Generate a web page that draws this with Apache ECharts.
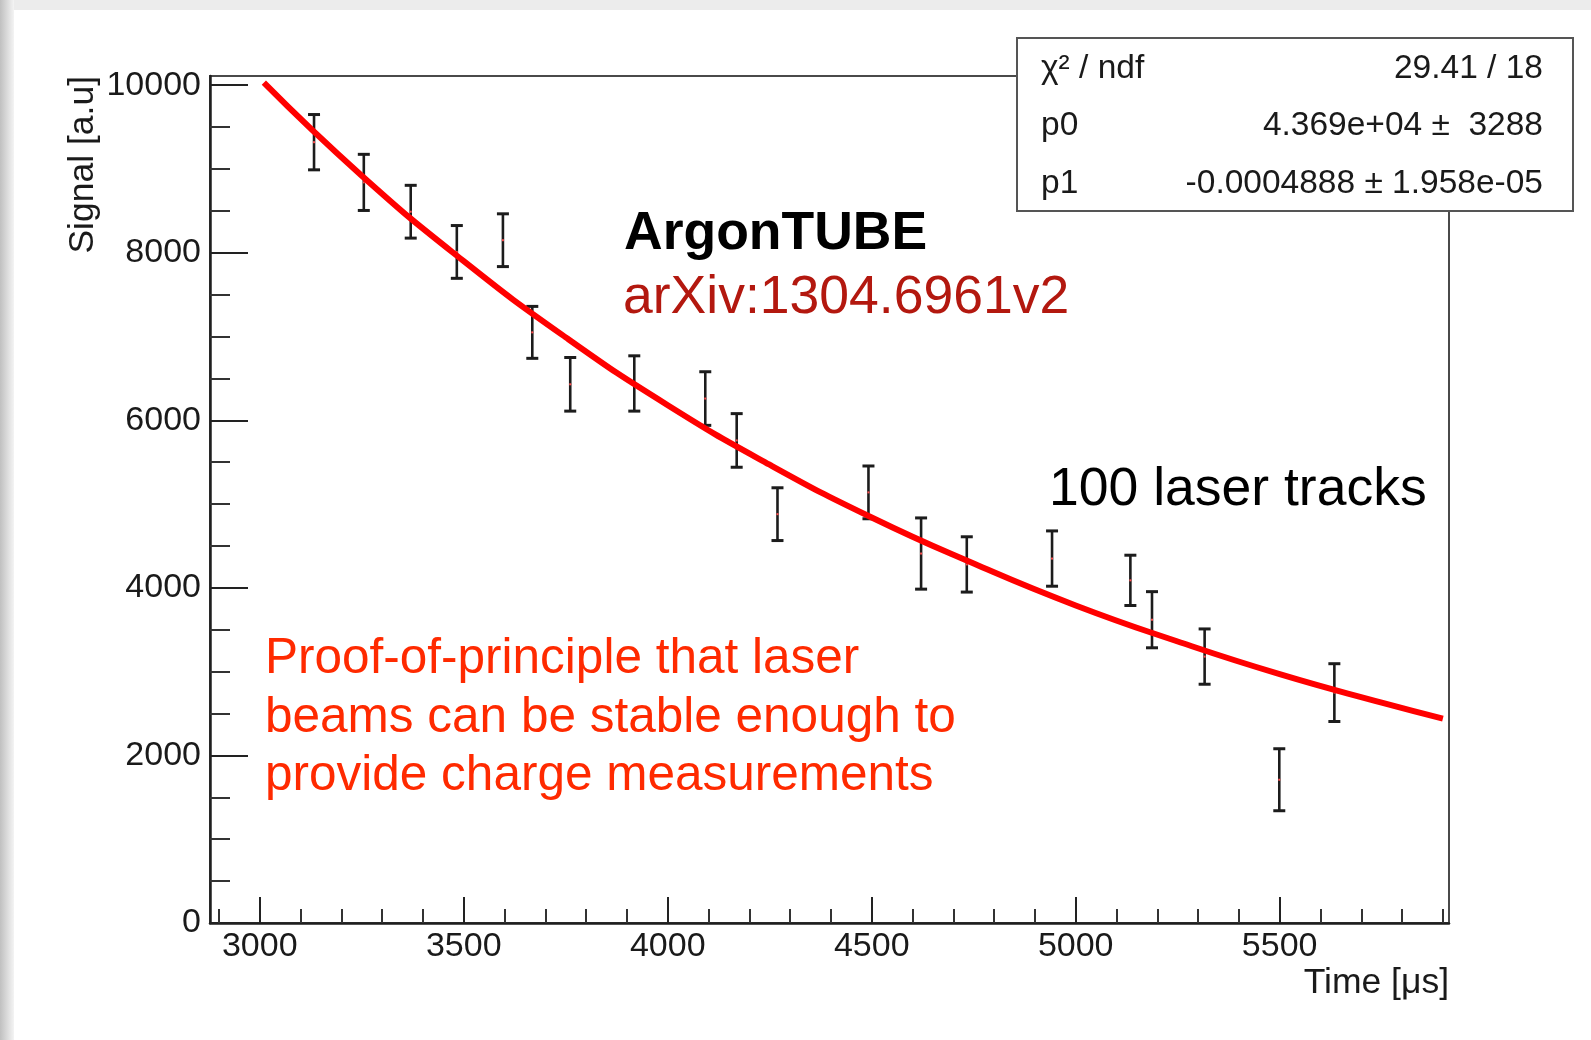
<!DOCTYPE html>
<html>
<head>
<meta charset="utf-8">
<script src="https://cdn.jsdelivr.net/npm/echarts@6/dist/echarts.min.js"></script>
<style>
html,body{margin:0;padding:0;background:#fff;}
#c{width:1591px;height:1040px;}
</style>
</head>
<body>
<div id="c"></div>
<script>
// ---- data ----
const time = [3133, 3255, 3370, 3483, 3596, 3668, 3761, 3918, 4092, 4169, 4269, 4492, 4621, 4733, 4942, 5134, 5187, 5316, 5499, 5634];
const signal = [9320, 8840, 8490, 8010, 8150, 7050, 6430, 6440, 6260, 5760, 4880, 5140, 4410, 4280, 4350, 4090, 3620, 3180, 1710, 2750];
const signalErr = [330, 335, 315, 315, 315, 310, 320, 330, 320, 320, 315, 315, 425, 330, 330, 300, 335, 330, 370, 345];

// fitted curve
const fitTime = [3010, 3250, 3500, 3750, 4000, 4250, 4500, 4750, 5000, 5250, 5500, 5750, 5900];
const fitSignal = [10030, 8920, 7900, 6990, 6180, 5470, 4840, 4290, 3790, 3360, 2970, 2630, 2440];

const xMajorTicks = [3000, 3500, 4000, 4500, 5000, 5500];
const xMinorTicks = [2900, 3100, 3200, 3300, 3400, 3600, 3700, 3800, 3900, 4100, 4200, 4300, 4400, 4600, 4700, 4800, 4900, 5100, 5200, 5300, 5400, 5600, 5700, 5800, 5900];
const yMajorTicks = [0, 2000, 4000, 6000, 8000, 10000];
const yMinorTicks = [500, 1000, 1500, 2500, 3000, 3500, 4500, 5000, 5500, 6500, 7000, 7500, 8500, 9000, 9500];

const statLabels = ['χ² / ndf', 'p0', 'p1'];
const statValues = ['29.41 / 18', '4.369e+04 \u00B1  3288', '-0.0004888 \u00B1 1.958e-05'];

const xRange = [2878, 5915];
const yRange = [0, 10110];

// ---- chart ----
const FONT = '"Liberation Sans", Arial, Helvetica, sans-serif';
const chart = echarts.init(document.getElementById('c'), null, {renderer: 'canvas'});

const errData = time.map((t, i) => [t, signal[i] - signalErr[i], signal[i] + signalErr[i], signal[i]]);
const fitData = fitTime.map((t, i) => [t, fitSignal[i]]);

const statGraphics = [];
statGraphics.push({type: 'rect', z: 50, shape: {x: 1017, y: 38, width: 556, height: 173},
  style: {fill: '#fff', stroke: '#555', lineWidth: 2}});
const rowY = [69, 126, 184];
statLabels.forEach((s, i) => {
  statGraphics.push({type: 'text', z: 51, x: 1041, y: rowY[i],
    style: {text: s, font: '33.5px ' + FONT, fill: '#1a1a1a', textAlign: 'left', textVerticalAlign: 'middle'}});
  statGraphics.push({type: 'text', z: 51, x: 1543, y: rowY[i],
    style: {text: statValues[i], font: '33.5px ' + FONT, fill: '#1a1a1a', textAlign: 'right', textVerticalAlign: 'middle'}});
});

const option = {
  animation: false,
  backgroundColor: '#ffffff',
  grid: {left: 210, right: 142, top: 76, bottom: 117, show: true, borderColor: '#4a4a4a', borderWidth: 2, backgroundColor: 'transparent'},
  xAxis: [
    {type: 'value', min: xRange[0], max: xRange[1], position: 'bottom',
      axisLine: {show: true, lineStyle: {color: '#1e1e1e', width: 2.5}},
      axisTick: {show: true, inside: true, length: 26, customValues: xMajorTicks, lineStyle: {color: '#222', width: 2}},
      axisLabel: {show: true, customValues: xMajorTicks, margin: 7, formatter: v => String(v),
        fontFamily: FONT, fontSize: 34, color: '#1a1a1a'},
      splitLine: {show: false}},
    {type: 'value', min: xRange[0], max: xRange[1], position: 'bottom', offset: 0,
      axisLine: {show: false},
      axisTick: {show: true, inside: true, length: 14, customValues: xMinorTicks, lineStyle: {color: '#333', width: 2}},
      axisLabel: {show: false}, splitLine: {show: false}}
  ],
  yAxis: [
    {type: 'value', min: yRange[0], max: yRange[1], position: 'left',
      axisLine: {show: true, lineStyle: {color: '#1e1e1e', width: 2.5}},
      axisTick: {show: true, inside: true, length: 38, customValues: yMajorTicks, lineStyle: {color: '#222', width: 2}},
      axisLabel: {show: true, customValues: yMajorTicks, margin: 9, formatter: v => String(v),
        fontFamily: FONT, fontSize: 34, color: '#1a1a1a'},
      splitLine: {show: false}},
    {type: 'value', min: yRange[0], max: yRange[1], position: 'left', offset: 0,
      axisLine: {show: false},
      axisTick: {show: true, inside: true, length: 20, customValues: yMinorTicks, lineStyle: {color: '#333', width: 2}},
      axisLabel: {show: false}, splitLine: {show: false}}
  ],
  series: [
    {
      type: 'custom', xAxisIndex: 0, yAxisIndex: 0, z: 3,
      data: errData,
      encode: {x: 0, y: [1, 2]},
      renderItem: function (params, api) {
        const x = api.value(0);
        const pLo = api.coord([x, api.value(1)]);
        const pHi = api.coord([x, api.value(2)]);
        const pC = api.coord([x, api.value(3)]);
        const hw = 6;
        const col = '#1c1c1c';
        return {type: 'group', children: [
          {type: 'line', shape: {x1: pLo[0], y1: pLo[1], x2: pHi[0], y2: pHi[1]}, style: {stroke: col, lineWidth: 2.6}},
          {type: 'line', shape: {x1: pLo[0] - hw, y1: pLo[1], x2: pLo[0] + hw, y2: pLo[1]}, style: {stroke: col, lineWidth: 3}},
          {type: 'line', shape: {x1: pHi[0] - hw, y1: pHi[1], x2: pHi[0] + hw, y2: pHi[1]}, style: {stroke: col, lineWidth: 3}},
          {type: 'rect', shape: {x: pC[0] - 1, y: pC[1] - 1, width: 2, height: 2}, style: {fill: '#ff5050'}}
        ]};
      }
    },
    {
      type: 'line', xAxisIndex: 0, yAxisIndex: 0, z: 5,
      data: fitData, smooth: true, showSymbol: false, symbol: 'none',
      lineStyle: {color: '#ff0000', width: 6}
    }
  ],
  graphic: [
    // slide shadow edges
    {type: 'rect', z: 0, shape: {x: 0, y: 0, width: 1591, height: 10}, style: {fill: '#ececec'}},
    {type: 'rect', z: 0, shape: {x: 0, y: 0, width: 14, height: 1040},
      style: {fill: new echarts.graphic.LinearGradient(0, 0, 1, 0, [{offset: 0, color: '#c0c0c0'}, {offset: 1, color: '#f4f4f4'}])}},
    // axis titles
    {type: 'text', z: 10, x: 83, y: 76, rotation: Math.PI / 2,
      style: {text: 'Signal [a.u]', font: '35.5px ' + FONT, fill: '#1a1a1a', textAlign: 'right', textVerticalAlign: 'middle'}},
    {type: 'text', z: 10, x: 1449, y: 983,
      style: {text: 'Time [μs]', font: '35.5px ' + FONT, fill: '#1a1a1a', textAlign: 'right', textVerticalAlign: 'middle'}},
    // annotations
    {type: 'text', z: 10, x: 624, y: 234,
      style: {text: 'ArgonTUBE', font: 'bold 53.5px ' + FONT, fill: '#000', textAlign: 'left', textVerticalAlign: 'middle'}},
    {type: 'text', z: 10, x: 623, y: 298,
      style: {text: 'arXiv:1304.6961v2', font: '53.5px ' + FONT, fill: '#b3180f', textAlign: 'left', textVerticalAlign: 'middle'}},
    {type: 'text', z: 10, x: 1049, y: 490,
      style: {text: '100 laser tracks', font: '53.5px ' + FONT, fill: '#000', textAlign: 'left', textVerticalAlign: 'middle'}},
    {type: 'text', z: 10, x: 265, y: 718,
      style: {text: 'Proof-of-principle that laser\nbeams can be stable enough to\nprovide charge measurements',
        font: '49.5px ' + FONT, lineHeight: 58.5, fill: '#ff2a00', textAlign: 'left', textVerticalAlign: 'middle'}}
  ].concat(statGraphics)
};

chart.setOption(option);
</script>
</body>
</html>
